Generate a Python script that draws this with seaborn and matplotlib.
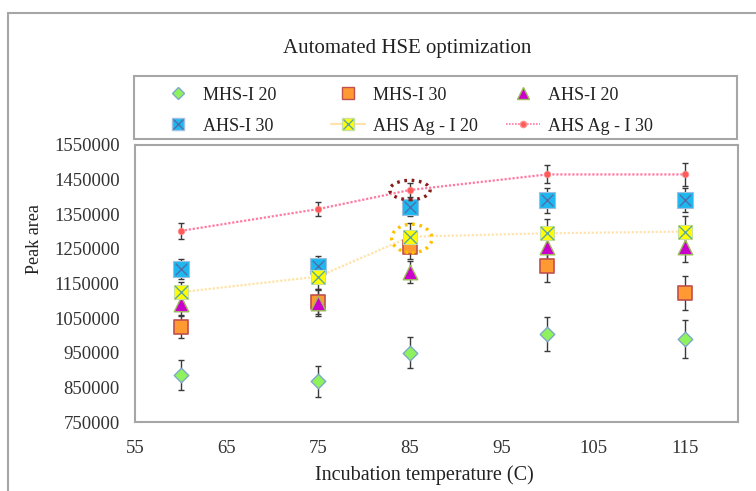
import matplotlib
matplotlib.use("Agg")
import matplotlib.pyplot as plt
import seaborn as sns
import numpy as np
import pandas as pd
from matplotlib.patches import Ellipse, Rectangle
from matplotlib.lines import Line2D
from matplotlib.legend_handler import HandlerTuple

# data
temps = [60, 75, 85, 100, 115]

mhs_i20 = [885000, 868000, 950000, 1003000, 990000]
mhs_i20_err = [43000, 45000, 45000, 49000, 56000]

mhs_i30 = [1025000, 1097000, 1255000, 1200000, 1123000]
mhs_i30_err = [32000, 35000, 35000, 46000, 50000]

ahs_i20 = [1090000, 1095000, 1183000, 1255000, 1255000]
ahs_i20_err = [32000, 40000, 32000, 35000, 43000]

ahs_i30 = [1192000, 1200000, 1370000, 1390000, 1392000]
ahs_i30_err = [29000, 29000, 25000, 37000, 35000]

ahs_ag_i20 = [1125000, 1170000, 1285000, 1295000, 1300000]
ahs_ag_i20_err = [29000, 35000, 40000, 40000, 46000]

ahs_ag_i30 = [1302000, 1365000, 1420000, 1465000, 1465000]
ahs_ag_i30_err = [23000, 21000, 20000, 26000, 32000]

y_ticks = [750000, 850000, 950000, 1050000, 1150000, 1250000, 1350000, 1450000, 1550000]
x_ticks = [55, 65, 75, 85, 95, 105, 115]

sns.set_theme(style="white")
plt.rcParams['font.family'] = ['Liberation Serif', 'DejaVu Serif']

fig = plt.figure(figsize=(7.56, 4.91), dpi=100)
ax = fig.add_axes([0.1786, 0.1405, 0.7976, 0.5642])

err_kw = dict(fmt='none', ecolor='#3a3a3a', elinewidth=1.0, capsize=2.5, capthick=1.0, zorder=2)

# error bars first so markers sit on top
for vals, errs in [(mhs_i20, mhs_i20_err), (mhs_i30, mhs_i30_err), (ahs_i20, ahs_i20_err),
                   (ahs_i30, ahs_i30_err), (ahs_ag_i20, ahs_ag_i20_err), (ahs_ag_i30, ahs_ag_i30_err)]:
    ax.errorbar(temps, vals, yerr=errs, **err_kw)

# lines for the Ag series
sns.lineplot(x=temps, y=ahs_ag_i30, ax=ax, color='#FF7AA2', lw=1.6,
             linestyle=(0, (1, 0.8)), zorder=3)
sns.lineplot(x=temps, y=ahs_ag_i20, ax=ax, color='#FFE3A8', lw=1.6,
             linestyle=(0, (1, 0.8)), zorder=3)

# markers
sns.scatterplot(x=temps, y=mhs_i20, ax=ax, marker='D', s=55, color='#8EF25C',
                edgecolor='#7FA8C8', linewidth=1.0, zorder=4)
sns.scatterplot(x=temps, y=mhs_i30, ax=ax, marker='s', s=110, color='#FF9A33',
                edgecolor='#C0504D', linewidth=1.2, zorder=4)
sns.scatterplot(x=temps, y=ahs_i20, ax=ax, marker='^', s=110, color='#CC00CC',
                edgecolor='#9BBB59', linewidth=1.0, zorder=5)
sns.scatterplot(x=temps, y=ahs_i30, ax=ax, marker='s', s=120, color='#1EB8F0',
                edgecolor='#A0C0E0', linewidth=0.8, zorder=4)
sns.scatterplot(x=temps, y=ahs_i30, ax=ax, marker='x', s=70, color='#4F6FA8',
                linewidth=1.0, zorder=4)
sns.scatterplot(x=temps, y=ahs_ag_i20, ax=ax, marker='s', s=110, color='#FFFF00',
                edgecolor='#C8E0A0', linewidth=0.8, zorder=5)
sns.scatterplot(x=temps, y=ahs_ag_i20, ax=ax, marker='x', s=90, color='#5FA8A0',
                linewidth=1.0, zorder=5)
sns.scatterplot(x=temps, y=ahs_ag_i30, ax=ax, marker='o', s=22, color='#FF5A5A',
                edgecolor='#FF9090', linewidth=0.5, zorder=5)

# dotted highlight ellipses at 85 C
ax.add_patch(Ellipse((85, ahs_ag_i30[2]), 4.4, 56000, fill=False, edgecolor='#8B1A1A',
                     lw=2.4, linestyle=(0, (0.8, 1.4)), zorder=6))
ax.add_patch(Ellipse((85.2, ahs_ag_i20[2] - 5000), 4.4, 82000, fill=False, edgecolor='#FFC000',
                     lw=2.4, linestyle=(0, (0.8, 1.4)), zorder=6))

ax.set_xlim(55, 120.8)
ax.set_ylim(750000, 1550000)
ax.set_xticks(x_ticks)
ax.set_yticks(y_ticks)
ax.set_xticklabels([str(t) for t in x_ticks])
ax.set_yticklabels([str(t) for t in y_ticks])
ax.tick_params(axis='both', length=0, labelsize=13.5, colors='#333333')
ax.tick_params(axis='y', pad=11)
ax.tick_params(axis='x', pad=13)
for sp in ax.spines.values():
    sp.set_color('#A6A6A6')
    sp.set_linewidth(1.5)
ax.set_xlabel('')
ax.set_ylabel('')

fig.text(0.562, 0.033, 'Incubation temperature (C)', ha='center', va='center',
         fontsize=14.5, color='#222222')
fig.text(0.045, 0.513, 'Peak area', ha='center', va='center', rotation=90,
         fontsize=13, color='#222222')
fig.text(0.538, 0.902, 'Automated HSE optimization', ha='center', va='center',
         fontsize=15, color='#222222')

# outer chart frame (left and top edges visible)
fig.add_artist(Rectangle((8 / 756, -0.1), 1.2, 1 - 13 / 491 + 0.1, transform=fig.transFigure,
                         fill=False, edgecolor='#A6A6A6', lw=1.5, clip_on=False))

# legend box
fig.add_artist(Rectangle((134 / 756, 1 - 139 / 491), 603 / 756, 63 / 491, transform=fig.transFigure,
                         fill=False, edgecolor='#A6A6A6', lw=1.5))

h_mhs20 = Line2D([], [], ls='none', marker='D', ms=6, mfc='#8EF25C', mec='#7FA8C8')
h_mhs30 = Line2D([], [], ls='none', marker='s', ms=9, mfc='#FF9A33', mec='#C0504D')
h_ahs20 = Line2D([], [], ls='none', marker='^', ms=8, mfc='#CC00CC', mec='#9BBB59')
h_ahs30 = (Line2D([], [], ls='none', marker='s', ms=8, mfc='#1EB8F0', mec='#A0C0E0'),
           Line2D([], [], ls='none', marker='x', ms=7, mec='#4F6FA8', mew=1.0))
h_ag20 = (Line2D([], [], color='#FFE3A8', lw=1.5),
          Line2D([], [], ls='none', marker='s', ms=8, mfc='#FFFF00', mec='#C8E0A0'),
          Line2D([], [], ls='none', marker='x', ms=7.5, mec='#5FA8A0', mew=1.0))
h_ag30 = Line2D([], [], color='#FF7AA2', lw=1.2, ls=(0, (1, 0.8)), marker='o', ms=4.5,
                mfc='#FF5A5A', mec='#FF9090')

legend_rows = [
    [(h_mhs20, 'MHS-I 20'), (h_mhs30, 'MHS-I 30'), (h_ahs20, 'AHS-I 20')],
    [(h_ahs30, 'AHS-I 30'), (h_ag20, 'AHS Ag - I 20'), (h_ag30, 'AHS Ag - I 30')],
]
col_x = [161 / 756, 331 / 756, 506 / 756]
row_y = [1 - 95 / 491, 1 - 126 / 491]
for r, row in enumerate(legend_rows):
    for c, (h, lab) in enumerate(row):
        leg = fig.legend([h], [lab], loc='center left', bbox_to_anchor=(col_x[c], row_y[r]),
                         frameon=False, fontsize=13, handlelength=1.9, handletextpad=0.45,
                         borderaxespad=0, borderpad=0,
                         handler_map={tuple: HandlerTuple(ndivide=1, pad=0)})
        for t in leg.get_texts():
            t.set_color('#222222')

fig.savefig('out.png', dpi=100)
